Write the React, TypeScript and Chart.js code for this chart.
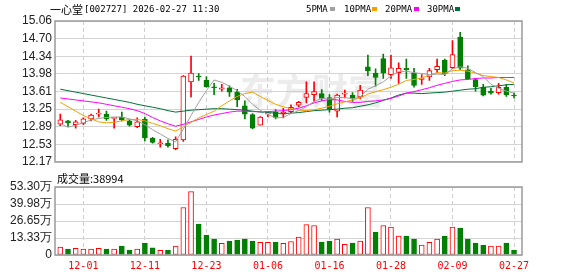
import React, { useEffect, useRef } from 'react';
import { Chart, registerables } from 'chart.js';
Chart.register(...registerables);

const dates = [
  '11-26', '11-27', '11-28', '12-01', '12-02', '12-03', '12-04', '12-05', '12-08', '12-09',
  '12-10', '12-11', '12-12', '12-15', '12-16', '12-17', '12-18', '12-19', '12-22', '12-23',
  '12-24', '12-25', '12-26', '12-29', '12-30', '12-31', '01-05', '01-06', '01-07', '01-08',
  '01-09', '01-12', '01-13', '01-14', '01-15', '01-16', '01-19', '01-20', '01-21', '01-22',
  '01-23', '01-26', '01-27', '01-28', '01-29', '01-30', '02-02', '02-03', '02-04', '02-05',
  '02-06', '02-09', '02-10', '02-11', '02-12', '02-13', '02-24', '02-25', '02-26', '02-27',
];
const xTickLabels = ['12-01', '12-11', '12-23', '01-06', '01-16', '01-28', '02-09', '02-27'];

const opens = [
  12.94, 13.01, 12.93, 12.96, 13.05, 13.15, 13.15, 13.06, 13.09, 13.01,
  12.89, 13.04, 12.65, 12.54, 12.55, 12.44, 12.62, 13.81, 13.93, 13.84,
  13.71, 13.66, 13.69, 13.60, 13.32, 13.14, 12.92, 13.15, 13.19, 13.15,
  13.20, 13.33, 13.49, 13.55, 13.57, 13.49, 13.21, 13.56, 13.54, 13.50,
  14.12, 13.99, 14.29, 13.96, 14.00, 14.09, 13.99, 13.86, 13.91, 14.06,
  14.26, 14.10, 14.73, 14.06, 13.86, 13.70, 13.62, 13.59, 13.70, 13.53,
];
const closes = [
  13.03, 12.97, 12.99, 13.05, 13.13, 13.17, 13.05, 13.07, 13.03, 12.92,
  12.99, 12.66, 12.57, 12.55, 12.50, 12.63, 13.93, 13.99, 13.91, 13.71,
  13.69, 13.69, 13.60, 13.44, 13.15, 12.86, 13.09, 13.17, 13.08, 13.19,
  13.29, 13.39, 13.57, 13.61, 13.47, 13.25, 13.54, 13.58, 13.48, 13.64,
  14.04, 13.90, 13.99, 14.10, 14.09, 14.06, 13.74, 13.89, 14.04, 14.13,
  13.98, 14.37, 14.09, 13.87, 13.71, 13.54, 13.58, 13.70, 13.55, 13.52,
];
const highs = [
  13.15, 13.02, 13.02, 13.07, 13.15, 13.25, 13.21, 13.08, 13.19, 13.03,
  13.07, 13.09, 12.67, 12.63, 12.62, 12.68, 13.94, 14.34, 13.98, 13.92,
  13.78, 13.76, 13.73, 13.66, 13.42, 13.16, 13.10, 13.19, 13.24, 13.27,
  13.34, 13.41, 13.81, 13.81, 13.65, 13.55, 13.56, 13.64, 13.59, 13.74,
  14.36, 14.08, 14.38, 14.36, 14.20, 14.28, 14.09, 13.96, 14.09, 14.28,
  14.28, 14.66, 14.83, 14.14, 13.88, 13.76, 13.68, 13.78, 13.76, 13.58,
];
const lows = [
  12.91, 12.89, 12.86, 12.93, 13.01, 13.09, 13.02, 12.86, 13.01, 12.90,
  12.87, 12.60, 12.55, 12.47, 12.47, 12.42, 12.59, 13.50, 13.84, 13.70,
  13.55, 13.62, 13.51, 13.30, 13.05, 12.85, 12.92, 13.09, 13.05, 13.07,
  13.17, 13.30, 13.38, 13.41, 13.43, 13.19, 13.09, 13.48, 13.41, 13.46,
  13.94, 13.72, 13.88, 13.88, 13.78, 13.88, 13.70, 13.76, 13.84, 14.00,
  13.94, 14.08, 14.06, 13.86, 13.62, 13.52, 13.56, 13.56, 13.51, 13.48,
];
const ma5 = [
  12.95, 12.88, 12.92, 12.97, 13.03, 13.06, 13.08, 13.09, 13.09, 13.05,
  13.01, 12.93, 12.83, 12.74, 12.65, 12.58, 12.84, 13.12, 13.39, 13.63,
  13.85, 13.80, 13.72, 13.63, 13.51, 13.35, 13.23, 13.14, 13.07, 13.08,
  13.16, 13.22, 13.30, 13.41, 13.47, 13.46, 13.49, 13.49, 13.46, 13.50,
  13.66, 13.73, 13.81, 13.93, 14.02, 14.03, 14.00, 13.98, 13.96, 13.97,
  13.96, 14.08, 14.12, 14.09, 14.00, 13.92, 13.76, 13.68, 13.62, 13.58,
];
const ma10 = [
  13.39, 13.30, 13.21, 13.12, 13.05, 12.99, 12.97, 12.98, 13.01, 13.04,
  13.04, 13.01, 12.96, 12.91, 12.85, 12.80, 12.89, 12.98, 13.07, 13.14,
  13.21, 13.32, 13.42, 13.51, 13.57, 13.60, 13.51, 13.43, 13.35, 13.30,
  13.26, 13.23, 13.22, 13.24, 13.27, 13.31, 13.36, 13.40, 13.44, 13.48,
  13.56, 13.61, 13.65, 13.70, 13.76, 13.84, 13.86, 13.89, 13.95, 14.00,
  13.99, 14.04, 14.05, 14.03, 13.99, 13.94, 13.92, 13.90, 13.85, 13.79,
];
const ma20 = [
  13.48, 13.46, 13.44, 13.42, 13.40, 13.38, 13.35, 13.32, 13.29, 13.26,
  13.22, 13.16, 13.08, 13.01, 12.95, 12.90, 12.94, 12.99, 13.04, 13.09,
  13.13, 13.16, 13.19, 13.21, 13.21, 13.20, 13.20, 13.20, 13.21, 13.22,
  13.24, 13.27, 13.32, 13.38, 13.42, 13.45, 13.44, 13.41, 13.39, 13.39,
  13.41, 13.42, 13.44, 13.47, 13.52, 13.58, 13.61, 13.65, 13.69, 13.74,
  13.78, 13.82, 13.85, 13.86, 13.88, 13.89, 13.89, 13.90, 13.90, 13.90,
];
const ma30 = [
  13.66, 13.63, 13.60, 13.57, 13.54, 13.51, 13.48, 13.45, 13.42, 13.39,
  13.35, 13.32, 13.29, 13.26, 13.22, 13.19, 13.21, 13.23, 13.24, 13.25,
  13.26, 13.26, 13.25, 13.24, 13.23, 13.21, 13.19, 13.18, 13.17, 13.16,
  13.17, 13.18, 13.20, 13.22, 13.23, 13.24, 13.25, 13.27, 13.28, 13.31,
  13.34, 13.38, 13.43, 13.48, 13.54, 13.58, 13.58, 13.57, 13.58, 13.59,
  13.60, 13.62, 13.64, 13.66, 13.67, 13.70, 13.71, 13.73, 13.75, 13.76,
];
// volume in 万 (10k shares)
const volumes = [
  6.2, 4.7, 5.2, 4.7, 4.7, 5.2, 4.7, 4.7, 7.0, 3.9,
  4.7, 9.4, 5.7, 3.6, 3.9, 7.0, 37.2, 49.7, 24.2, 15.6,
  12.5, 9.1, 10.9, 11.7, 12.5, 10.9, 9.9, 9.9, 9.9, 9.1,
  10.6, 14.0, 23.9, 23.1, 10.1, 10.9, 12.5, 8.3, 9.4, 10.9,
  37.2, 17.9, 23.1, 21.8, 14.8, 14.8, 12.5, 7.8, 9.9, 12.5,
  14.8, 21.8, 21.1, 12.5, 9.4, 7.8, 7.0, 7.0, 9.4, 3.8994,
];
const volumeUp = [
  1, 0, 1, 1, 1, 1, 0, 1, 0, 0,
  1, 0, 0, 1, 0, 1, 1, 1, 0, 0,
  0, 1, 0, 0, 0, 0, 1, 1, 0, 1,
  1, 1, 1, 1, 0, 0, 1, 1, 0, 1,
  1, 0, 1, 1, 1, 0, 0, 1, 1, 1,
  0, 1, 0, 0, 0, 0, 1, 1, 0, 0,
];
const priceMin = 12.17;
const priceMax = 15.06;
const priceTickLabels = ['12.17', '12.53', '12.89', '13.25', '13.61', '13.98', '14.34', '14.70', '15.06'];
const volMax = 53.3;
const volTickLabels = ['0', '13.33万', '26.65万', '39.98万', '53.30万'];

const RED = '#ff0000';
const GREEN = '#008000';
const MA_COLORS = ['#a0a0a0', '#f5a000', '#ff00ff', '#00703a'];
const GRID = '#d4d4d4';
const FRAME = '#9a9a9a';
const LABEL_FONT = { family: '"Liberation Sans", Arial, sans-serif', size: 12 };

const framePlugin = {
  id: 'frame',
  afterDraw(chart: any) {
    const { ctx, chartArea: a } = chart;
    ctx.save();
    ctx.strokeStyle = FRAME;
    ctx.lineWidth = 1.5;
    ctx.strokeRect(Math.round(a.left), Math.round(a.top), Math.round(a.right - a.left), Math.round(a.bottom - a.top));
    ctx.restore();
  },
};

const watermarkPlugin = {
  id: 'watermark',
  beforeDatasetsDraw(chart: any) {
    const { ctx, chartArea: a } = chart;
    ctx.save();
    ctx.fillStyle = 'rgba(200,200,200,0.35)';
    ctx.font = 'bold 36px "Noto Sans CJK SC", sans-serif';
    ctx.textBaseline = 'middle';
    ctx.textAlign = 'left';
    ctx.fillText('东方财富', a.left + 185, a.top + 70);
    ctx.restore();
  },
};

export default function App() {
  const priceRef = useRef<HTMLCanvasElement>(null);
  const volRef = useRef<HTMLCanvasElement>(null);

  useEffect(() => {
    const tickIdx = xTickLabels.map((l) => dates.indexOf(l));
    const xMin = -0.69;
    const xMax = 60.04;
    const up = opens.map((o, i) => closes[i] >= o);

    const xScale = (showLabels: boolean, h: number) => ({
      type: 'linear' as const,
      min: xMin,
      max: xMax,
      offset: false,
      afterBuildTicks: (s: any) => {
        s.ticks = tickIdx.map((v) => ({ value: v }));
      },
      afterFit: (s: any) => {
        s.height = h;
      },
      grid: { color: '#cfcfcf', lineWidth: 1, drawTicks: false, offset: false },
      border: { display: false, dash: [4, 3] },
      ticks: {
        display: showLabels,
        padding: 5,
        color: RED,
        font: { family: '"DejaVu Sans Mono", monospace', size: 10 },
        maxRotation: 0,
        autoSkip: false,
        callback: (v: any) => dates[Math.round(v)],
      },
    });

    const yScale = (min: number, max: number, labels: string[]) => ({
      min,
      max,
      afterBuildTicks: (s: any) => {
        s.ticks = labels.map((_, k) => ({ value: min + ((max - min) * k) / (labels.length - 1) }));
      },
      afterFit: (s: any) => {
        s.width = 55;
      },
      grid: { color: GRID, drawTicks: false },
      border: { display: false },
      ticks: {
        padding: 3,
        color: '#222',
        font: LABEL_FONT,
        autoSkip: false,
        callback: (_v: any, idx: number) => labels[idx],
      },
    });

    const price = new Chart(priceRef.current!, {
      type: 'bar',
      data: {
        datasets: [
          ...[ma5, ma10, ma20, ma30].map((arr, k) => ({
            type: 'line' as const,
            data: arr.map((v, i) => ({ x: i, y: v })),
            borderColor: MA_COLORS[k],
            borderWidth: 1,
            pointRadius: 0,
            tension: 0,
          })),
          {
            type: 'bar' as const,
            data: opens.map((o, i) => ({ x: i, y: [o, closes[i]] })),
            backgroundColor: up.map((u) => (u ? '#ffffff' : GREEN)),
            borderColor: up.map((u) => (u ? RED : GREEN)),
            borderWidth: 1,
            borderSkipped: false,
            barThickness: 5,
            grouped: false,
            minBarLength: 1,
          },
          {
            type: 'bar' as const,
            data: lows.map((l, i) => ({ x: i, y: [l, highs[i]] })),
            backgroundColor: up.map((u) => (u ? RED : GREEN)),
            borderWidth: 0,
            barThickness: 1,
            grouped: false,
          },
        ] as any,
      },
      options: {
        responsive: false,
        animation: false,
        events: [],
        layout: { padding: { left: 0, right: 56, top: 21, bottom: 7 } },
        plugins: { legend: { display: false }, tooltip: { enabled: false } },
        scales: {
          x: xScale(false, 0) as any,
          y: yScale(priceMin, priceMax, priceTickLabels) as any,
        },
      },
      plugins: [watermarkPlugin, framePlugin],
    });

    const vol = new Chart(volRef.current!, {
      type: 'bar',
      data: {
        datasets: [
          {
            data: volumes.map((v, i) => ({ x: i, y: v })),
            backgroundColor: volumeUp.map((u) => (u ? '#ffffff' : GREEN)),
            borderColor: volumeUp.map((u) => (u ? RED : GREEN)),
            borderWidth: 1,
            borderSkipped: false,
            barThickness: 5,
            grouped: false,
          },
        ] as any,
      },
      options: {
        responsive: false,
        animation: false,
        events: [],
        layout: { padding: { left: 0, right: 56, top: 17, bottom: 0 } },
        plugins: { legend: { display: false }, tooltip: { enabled: false } },
        scales: {
          x: xScale(true, 21) as any,
          y: yScale(0, volMax, volTickLabels) as any,
        },
      },
      plugins: [framePlugin],
    });

    return () => {
      price.destroy();
      vol.destroy();
    };
  }, []);

  const mono = '"DejaVu Sans Mono", monospace';
  const cjk = '"Noto Sans CJK SC", sans-serif';
  const abs = (left: number, top: number, extra: any = {}) => ({
    position: 'absolute' as const,
    left,
    top,
    whiteSpace: 'nowrap' as const,
    lineHeight: '12px',
    ...extra,
  });
  const legend = [
    { t: '5PMA', x: 306, sx: 330, c: MA_COLORS[0] },
    { t: '10PMA', x: 344, sx: 372, c: MA_COLORS[1] },
    { t: '20PMA', x: 385, sx: 414, c: MA_COLORS[2] },
    { t: '30PMA', x: 427, sx: 455, c: MA_COLORS[3] },
  ];

  return (
    <div style={{ position: 'fixed', left: 0, top: 0, width: 578, height: 276, background: '#fff', overflow: 'hidden' }}>
      <canvas ref={priceRef} width={578} height={172} style={{ position: 'absolute', left: 0, top: 0 }} />
      <canvas ref={volRef} width={578} height={106} style={{ position: 'absolute', left: 0, top: 170 }} />
      <span style={abs(50, 3, { fontFamily: cjk, fontSize: 11, color: '#000' })}>一心堂</span>
      <span style={abs(84, 3, { fontFamily: mono, fontSize: 9, color: '#000' })}>[002727] 2026-02-27 11:30</span>
      {legend.map((l) => (
        <React.Fragment key={l.t}>
          <span style={abs(l.x, 3, { fontFamily: mono, fontSize: 9, color: '#000' })}>{l.t}</span>
          <span style={{ position: 'absolute', left: l.sx, top: 7, width: 5, height: 4, background: l.c }} />
        </React.Fragment>
      ))}
      <span style={abs(57, 172, { fontFamily: cjk, fontSize: 11, color: '#000' })}>成交量:38994</span>
    </div>
  );
}
